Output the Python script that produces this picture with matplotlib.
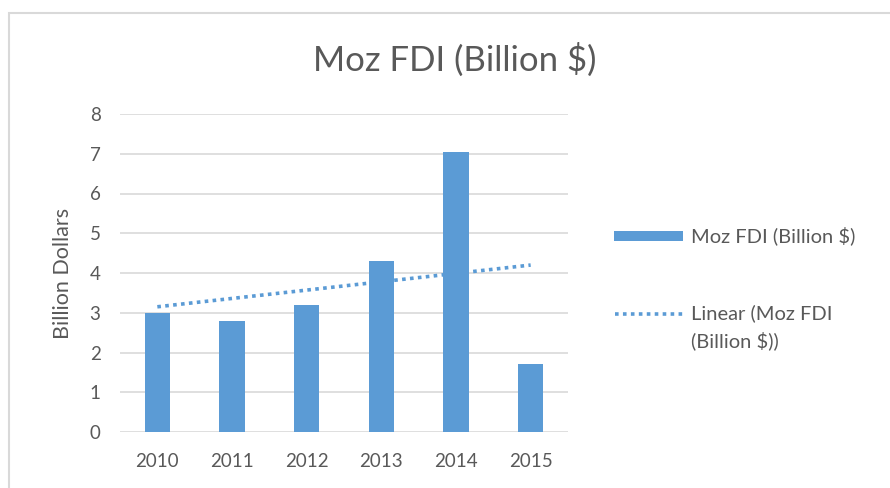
import numpy as np
import matplotlib
matplotlib.use("Agg")
import matplotlib.pyplot as plt
from matplotlib.patches import Rectangle
from matplotlib.lines import Line2D

years = ["2010", "2011", "2012", "2013", "2014", "2015"]
fdi = [3.0, 2.8, 3.2, 4.3, 7.05, 1.7]

bar_color = "#5b9bd5"
grid_color = "#d9d9d9"
text_color = "#595959"

plt.rcParams['font.family'] = ['Lato', 'DejaVu Sans']

fig = plt.figure(figsize=(8.9, 4.88), dpi=100)
ax = fig.add_axes([120/890, 1 - 432/488, 448/890, 318/488])

x = np.arange(len(years))
ax.bar(x, fdi, width=0.34, color=bar_color, zorder=3)

# linear trendline, like Excel
slope, inter = np.polyfit(x, fdi, 1)
trend_style = dict(color=bar_color, linestyle=(0, (1, 1.2)), linewidth=2.6)
ax.plot(x, slope * x + inter, zorder=4, **trend_style)

ax.set_xlim(-0.5, 5.5)
ax.set_ylim(0, 8)
ax.set_yticks(range(0, 9))
ax.set_xticks(x)
ax.set_xticklabels(years)
ax.yaxis.grid(True, color=grid_color, linewidth=1.2, zorder=0)
for s in ax.spines.values():
    s.set_visible(False)
ax.tick_params(axis='both', length=0, labelsize=13.5, labelcolor=text_color)
ax.tick_params(axis='x', pad=15)
ax.tick_params(axis='y', pad=14)
ax.set_ylabel("Billion Dollars", fontsize=15.5, color=text_color, labelpad=12)

fig.text(455/890, 1 - 60/488, "Moz FDI (Billion $)", ha='center', va='center',
         fontsize=25, color=text_color)

# legend, drawn by hand so the dotted line sits on the first text line
W, H = 890, 488
fig.patches.append(Rectangle((614/W, 1 - 241/H), 69/W, 10/H, transform=fig.transFigure,
                             facecolor=bar_color, edgecolor='none'))
fig.text(691/W, 1 - 236/H, "Moz FDI (Billion $)", ha='left', va='center',
         fontsize=14.5, color=text_color)
fig.lines.append(Line2D([615/W, 683/W], [1 - 314/H, 1 - 314/H], transform=fig.transFigure,
                        **trend_style))
fig.text(691/W, 1 - 313/H, "Linear (Moz FDI", ha='left', va='center',
         fontsize=14.5, color=text_color)
fig.text(691/W, 1 - 341/H, "(Billion $))", ha='left', va='center',
         fontsize=14.5, color=text_color)

# chart border
fig.patches.append(Rectangle((9/W, -0.1), 1.2, 1 - 13/H + 0.1, transform=fig.transFigure,
                             fill=False, edgecolor=grid_color, linewidth=1.5))

fig.savefig("out.png", dpi=100)
